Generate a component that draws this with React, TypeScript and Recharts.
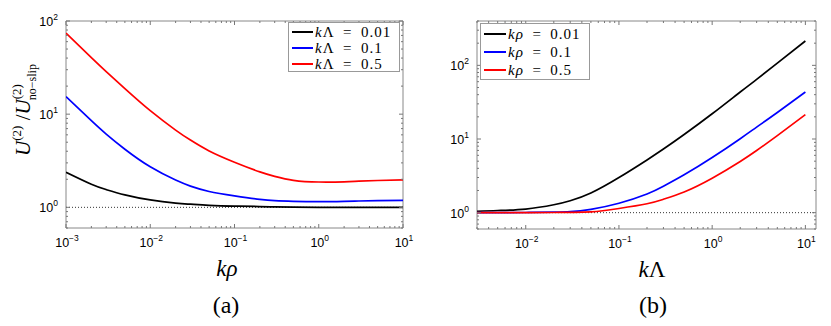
import React from "react";
import { Legend, Line, LineChart, ReferenceArea, ReferenceLine, XAxis, YAxis } from "recharts";

// panel (a): U ratio vs k*rho, one curve per k*Lambda
const KRHO = [0.001, 0.002, 0.003, 0.005, 0.01, 0.02, 0.03, 0.05, 0.1, 0.2, 0.3, 0.5, 1, 2, 3, 5, 10];
const A_KL_001 = [2.38, 1.77, 1.55, 1.36, 1.2, 1.11, 1.08, 1.05, 1.03, 1.02, 1.01, 1.005, 1.0, 1.0, 1.0, 1.0, 1.0];
const A_KL_01 = [15.4, 8.5, 6.1, 4.2, 2.72, 1.96, 1.69, 1.48, 1.33, 1.22, 1.18, 1.16, 1.15, 1.16, 1.17, 1.18, 1.19];
const A_KL_05 = [74, 40.4, 28.6, 18.8, 10.9, 6.75, 5.27, 4.03, 3.05, 2.4, 2.15, 1.95, 1.87, 1.88, 1.91, 1.94, 1.97];

// panel (b): U ratio vs k*Lambda, one curve per k*rho
const KLAMBDA = [0.003, 0.005, 0.01, 0.02, 0.03, 0.05, 0.1, 0.2, 0.3, 0.5, 1, 2, 3, 5, 10];
const B_KR_001 = [1.04, 1.07, 1.12, 1.28, 1.45, 1.85, 3.0, 5.2, 7.3, 11.5, 22, 43.5, 64.5, 107, 214];
const B_KR_01 = [1.0, 1.0, 1.005, 1.014, 1.03, 1.11, 1.34, 1.79, 2.28, 3.26, 5.6, 10.1, 14.5, 22.9, 43.4];
const B_KR_05 = [1.0, 1.0, 1.0, 1.005, 1.01, 1.025, 1.14, 1.32, 1.52, 1.91, 2.94, 4.96, 6.98, 11.1, 21.4];

const A_LABELS = ["0.01", "0.1", "0.5"];
const B_LABELS = ["0.01", "0.1", "0.5"];
const COLORS = ["#000000", "#0000ff", "#ff0000"];

const A_XDOMAIN = [0.001, 10];
const A_YDOMAIN = [0.6, 100];
const B_XDOMAIN = [0.003, 13];
const B_YDOMAIN = [0.6, 400];

// log ticks: every m*10^e inside [lo, hi]
function logTicks(lo: number, hi: number) {
  const out: number[] = [];
  for (let e = Math.floor(Math.log10(lo)); e <= Math.ceil(Math.log10(hi)); e++) {
    for (let m = 1; m <= 9; m++) {
      const v = Number((m * Math.pow(10, e)).toPrecision(6));
      if (v >= lo - 1e-12 && v <= hi + 1e-12) out.push(v);
    }
  }
  return out;
}

const isMajor = (v: number) => Math.abs(Math.log10(v) - Math.round(Math.log10(v))) < 1e-6;
const TICK_COL = "#777";
const SANS = '"Liberation Sans", Arial, sans-serif';
const SERIF = '"Liberation Serif", "Times New Roman", serif';

function Pow10({ v, ...rest }: any) {
  const e = Math.round(Math.log10(v));
  return (
    <text {...rest} fontFamily={SANS} fontSize={12.5} fill="#000">
      10
      <tspan fontSize={8.5} dy={-6}>
        {e < 0 ? `\u2212${-e}` : `${e}`}
      </tspan>
    </text>
  );
}

const xTick = (plotH: number) => (props: any) => {
  const { x, y, payload } = props;
  const major = isMajor(payload.value);
  const len = major ? 4 : 2;
  return (
    <g>
      <line x1={x} x2={x} y1={y} y2={y - len} stroke={TICK_COL} />
      <line x1={x} x2={x} y1={y - plotH} y2={y - plotH + len} stroke={TICK_COL} />
      {major && <Pow10 v={payload.value} x={x + 1} y={y + 19} textAnchor="middle" />}
    </g>
  );
};

const yTick = (plotW: number) => (props: any) => {
  const { x, y, payload } = props;
  const major = isMajor(payload.value);
  const len = major ? 4 : 2;
  return (
    <g>
      <line x1={x} x2={x + len} y1={y} y2={y} stroke={TICK_COL} />
      <line x1={x + plotW} x2={x + plotW - len} y1={y} y2={y} stroke={TICK_COL} />
      {major && <Pow10 v={payload.value} x={x - 8} y={y + 5} textAnchor="end" />}
    </g>
  );
};

function LegendBox({ sym, italicSym, labels, width, height, rowH, padTop, lineW }: any) {
  return (
    <div
      style={{
        width,
        height,
        boxSizing: "border-box",
        border: "1px solid #999",
        background: "#fff",
        paddingTop: padTop,
        paddingLeft: 3,
        fontFamily: SERIF,
        fontSize: 15,
        lineHeight: `${rowH}px`,
        color: "#000",
      }}
    >
      {labels.map((lab: string, i: number) => (
        <div key={lab} style={{ display: "flex", alignItems: "center", whiteSpace: "nowrap", height: rowH }}>
          <span style={{ display: "inline-block", width: lineW, height: 2, background: COLORS[i], marginRight: 2 }} />
          <span style={{ letterSpacing: 1 }}>
            <i>k</i>
            {italicSym ? <i>{sym}</i> : sym}
            {"\u2002=\u2002"}
            {lab}
          </span>
        </div>
      ))}
    </div>
  );
}

const dataA = KRHO.map((x, i) => ({ x, s0: A_KL_001[i], s1: A_KL_01[i], s2: A_KL_05[i] }));
const dataB = KLAMBDA.map((x, i) => ({ x, s0: B_KR_001[i], s1: B_KR_01[i], s2: B_KR_05[i] }));

// plot box (a): x 66..403, y 21..228 ; (b): x 57..396 (inside its own chart), y 21..229
const X_AXIS_H = 30;
const A_W = 420;
const A_H = 326;
const A_YW = 60;
const A_M = { top: 21, left: 6, right: 17, bottom: 98 - X_AXIS_H };
const B_W = 411;
const B_H = 326;
const B_YW = 50;
const B_M = { top: 21, left: 7, right: 15, bottom: 97 - X_AXIS_H };

function Panel({ data, w, h, m, yw, xd, yd, legend }: any) {
  const plotW = w - m.left - m.right - yw;
  const plotH = h - m.top - m.bottom - X_AXIS_H;
  return (
    <LineChart width={w} height={h} data={data} margin={m}>
      <XAxis
        dataKey="x"
        type="number"
        scale="log"
        domain={xd}
        allowDataOverflow
        ticks={logTicks(xd[0], xd[1])}
        interval={0}
        height={X_AXIS_H}
        tickLine={false}
        axisLine={false}
        tickSize={0}
        tickMargin={0}
        tick={xTick(plotH)}
      />
      <YAxis
        type="number"
        scale="log"
        domain={yd}
        allowDataOverflow
        ticks={logTicks(yd[0], yd[1])}
        interval={0}
        width={yw}
        tickLine={false}
        axisLine={false}
        tickSize={0}
        tickMargin={0}
        tick={yTick(plotW)}
      />
      <ReferenceArea x1={xd[0]} x2={xd[1]} y1={yd[0]} y2={yd[1]} fill="none" stroke="#888" strokeWidth={1} ifOverflow="visible" />
      <ReferenceLine y={1} stroke="#333" strokeDasharray="1 2" strokeWidth={1} />
      {["s0", "s1", "s2"].map((k, i) => (
        <Line
          key={k}
          dataKey={k}
          type="natural"
          stroke={COLORS[i]}
          strokeWidth={1.7}
          dot={false}
          isAnimationActive={false}
        />
      ))}
      <Legend
        layout="horizontal"
        verticalAlign="middle"
        align="center"
        wrapperStyle={legend.style}
        content={() => <LegendBox {...legend.box} />}
      />
    </LineChart>
  );
}

export default function App() {
  return (
    <div style={{ position: "absolute", left: 0, top: 0, width: 831, height: 326, background: "#fff" }}>
      <div style={{ position: "absolute", left: 0, top: 0 }}>
        <Panel
          data={dataA}
          w={A_W}
          h={A_H}
          m={A_M}
          yw={A_YW}
          xd={A_XDOMAIN}
          yd={A_YDOMAIN}
          legend={{
            style: { left: 288, top: 22, width: 112, height: 50 },
            box: { sym: "\u039B", italicSym: false, labels: A_LABELS, width: 112, height: 50, rowH: 16, padTop: 1, lineW: 21 },
          }}
        />
      </div>
      <div style={{ position: "absolute", left: 420, top: 0 }}>
        <Panel
          data={dataB}
          w={B_W}
          h={B_H}
          m={B_M}
          yw={B_YW}
          xd={B_XDOMAIN}
          yd={B_YDOMAIN}
          legend={{
            style: { left: 60, top: 23, width: 110, height: 57 },
            box: { sym: "\u03C1", italicSym: true, labels: B_LABELS, width: 110, height: 57, rowH: 18, padTop: 1, lineW: 22 },
          }}
        />
      </div>
      <svg width={831} height={326} style={{ position: "absolute", left: 0, top: 0, pointerEvents: "none" }}>
        <text transform="translate(30,110) rotate(-90)" textAnchor="middle" fontFamily={SERIF} fontSize={21} fill="#000">
          <tspan fontStyle="italic">U</tspan>
          <tspan fontSize={13} dy={-9}>(2)</tspan>
          <tspan dy={9}>{" /"}</tspan>
          <tspan fontStyle="italic">U</tspan>
          <tspan fontSize={13} dy={-9}>(2)</tspan>
          <tspan fontSize={12} dx={-16} dy={15}>{"no\u2212slip"}</tspan>
        </text>
        <text x={227} y={276} textAnchor="middle" fontFamily={SERIF} fontSize={23} fontStyle="italic" fill="#000">
          k{"\u03C1"}
        </text>
        <text x={226} y={313} textAnchor="middle" fontFamily={SERIF} fontSize={24} fill="#000">
          (a)
        </text>
        <text x={652} y={277} textAnchor="middle" fontFamily={SERIF} fontSize={23} fill="#000">
          <tspan fontStyle="italic">k</tspan>
          {"\u039B"}
        </text>
        <text x={653} y={313} textAnchor="middle" fontFamily={SERIF} fontSize={24} fill="#000">
          (b)
        </text>
      </svg>
    </div>
  );
}
